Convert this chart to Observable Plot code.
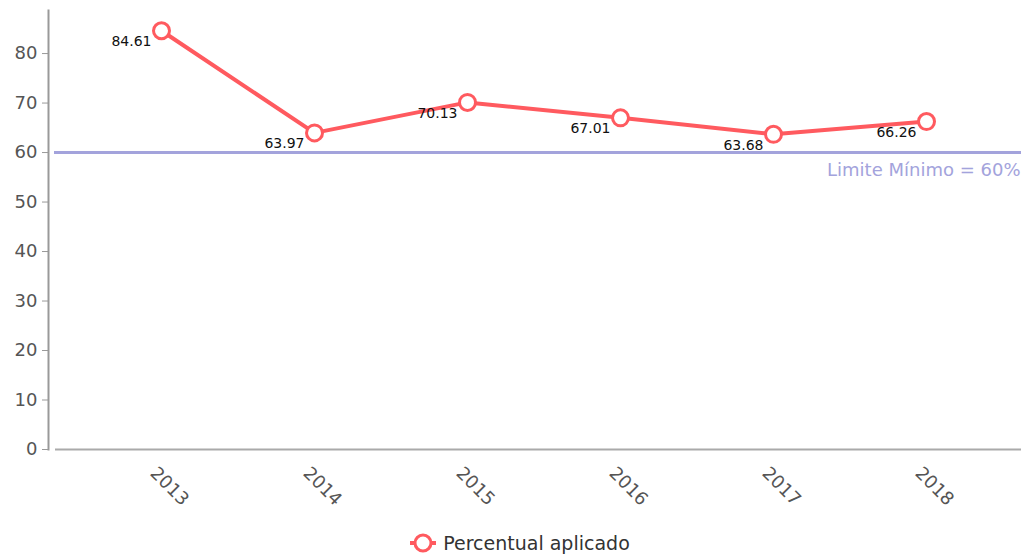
<!DOCTYPE html>
<html>
<head>
<meta charset="utf-8">
<script src="https://cdn.jsdelivr.net/npm/d3@7"></script>
<script src="https://cdn.jsdelivr.net/npm/@observablehq/plot@0.6"></script>
<style>
  body { margin: 0; background: #fff; }
  #legend { display: flex; justify-content: center; align-items: center; margin-top: 12px;
    font-family: "DejaVu Sans", sans-serif; font-size: 19px; color: #333; padding-left: 18px; }
  #legend svg { margin-right: 6px; }
</style>
</head>
<body>
<div id="chart"></div>
<div id="legend"></div>
<script>
const years = ["2013", "2014", "2015", "2016", "2017", "2018"];
const percentual = [84.61, 63.97, 70.13, 67.01, 63.68, 66.26];
const yTicks = [0, 10, 20, 30, 40, 50, 60, 70, 80];
const limite = 60;
const limiteLabel = "Limite Mínimo = 60%";
const seriesName = "Percentual aplicado";

const data = years.map((y, i) => ({year: y, value: percentual[i]}));
const red = "#ff5a5f";
const purple = "#a3a3dc";

const plot = Plot.plot({
  width: 1021,
  height: 520,
  marginLeft: 48,
  marginRight: 0,
  marginTop: 10,
  marginBottom: 71,
  style: {fontFamily: "DejaVu Sans, sans-serif", background: "#fff", overflow: "visible"},
  x: {type: "point", domain: years, range: [160, 926], padding: 0},
  y: {domain: [0, 88.7]},
  marks: [
    Plot.frame({anchor: "left", stroke: "#999", strokeWidth: 2}),
    Plot.ruleY([0], {stroke: "#aaa", strokeWidth: 2, insetLeft: 7}),
    Plot.axisY({ticks: yTicks, tickSize: 6, tickPadding: 5, fontSize: 18, color: "#555", stroke: "#999", label: null}),
    Plot.axisX({tickSize: 0, tickRotate: 45, textAnchor: "middle", lineAnchor: "middle", dx: 8, dy: 25, fontSize: 18, fill: "#555", label: null}),
    Plot.ruleY([limite], {stroke: purple, strokeWidth: 3, insetLeft: 6}),
    Plot.text([limite], {y: d => d, text: () => limiteLabel, frameAnchor: "right", textAnchor: "end", dx: -1, dy: 18, fontSize: 18, fill: purple}),
    Plot.line(data, {x: "year", y: "value", stroke: red, strokeWidth: 4}),
    Plot.dot(data, {x: "year", y: "value", r: 8, fill: "white", stroke: red, strokeWidth: 3}),
    Plot.text(data, {x: "year", y: "value", text: d => d.value.toFixed(2), textAnchor: "end", dx: -10, dy: 11, fontSize: 14, fill: "#111"})
  ]
});
document.getElementById("chart").append(plot);

const legend = document.getElementById("legend");
const ns = "http://www.w3.org/2000/svg";
const sw = document.createElementNS(ns, "svg");
sw.setAttribute("width", 28); sw.setAttribute("height", 22);
sw.innerHTML = `<line x1="1" y1="11" x2="27" y2="11" stroke="${red}" stroke-width="4"/><circle cx="14" cy="11" r="8" fill="white" stroke="${red}" stroke-width="3"/>`;
legend.append(sw);
const span = document.createElement("span");
span.textContent = seriesName;
legend.append(span);
</script>
</body>
</html>
